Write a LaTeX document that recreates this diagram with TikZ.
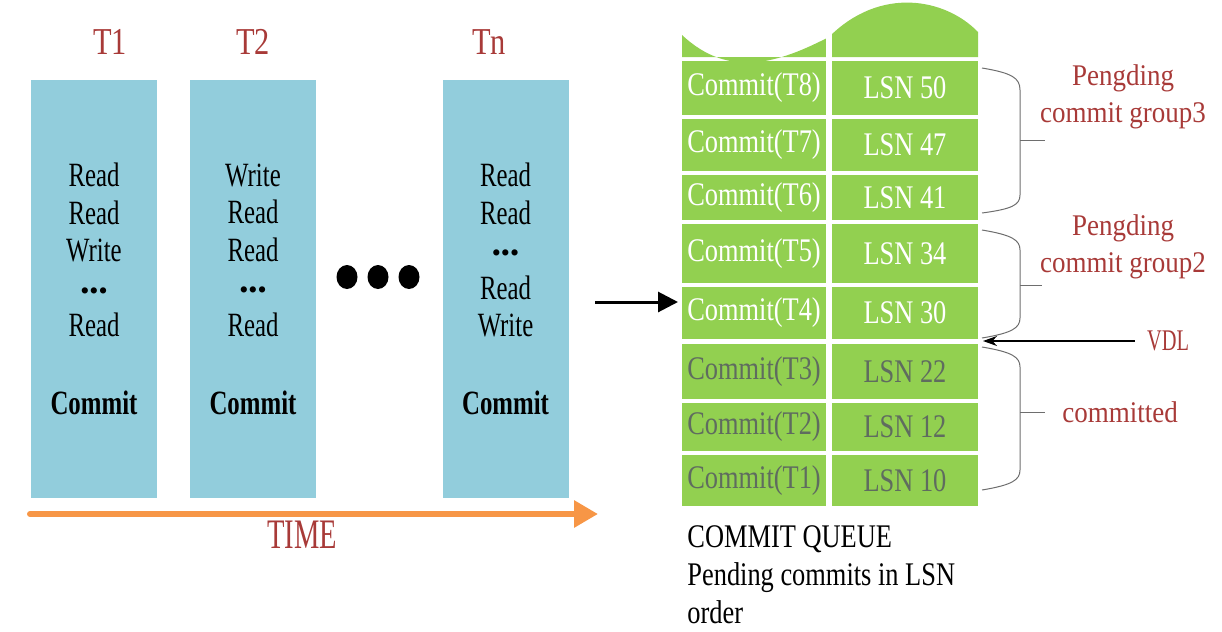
\documentclass[tikz,border=0pt]{standalone}
\usepackage{fontspec}
\setmainfont{Liberation Serif}
\newfontfamily\narrowfont[FakeStretch=0.8]{Liberation Serif}
\newfontfamily\opfont[FakeStretch=0.73]{Liberation Serif}
\newfontfamily\tallfont[FakeStretch=0.68]{Liberation Serif}
\newfontfamily\redfont[FakeStretch=0.9]{Liberation Serif}
\usetikzlibrary{arrows.meta}
\definecolor{txblue}{RGB}{146,205,220}
\definecolor{qgreen}{RGB}{146,208,80}
\definecolor{timeorange}{RGB}{247,150,70}
\definecolor{labelred}{RGB}{168,58,56}
\definecolor{donegray}{RGB}{95,108,95}
\definecolor{bracegray}{RGB}{110,110,110}
\newcommand{\opdots}{{\rmfamily\fontsize{13}{13}\selectfont\textbullet\textbullet\textbullet}}
\tikzset{
  txbox/.style={fill=txblue, minimum width=63pt, minimum height=209pt, inner sep=0pt},
  optext/.style={align=center, inner sep=0pt, font=\opfont\fontsize{17}{18.75}\selectfont},
  opcommit/.style={inner sep=0pt, font=\opfont\bfseries\fontsize{17}{18}\selectfont},
  txlabel/.style={inner sep=0pt, text=labelred, font=\narrowfont\fontsize{19}{20}\selectfont},
  qcell/.style={fill=qgreen, inner sep=0pt, text=white, font=\narrowfont\fontsize{16.5}{20}\selectfont},
  qleft/.style={qcell, minimum width=72pt},
  qright/.style={qcell, minimum width=73pt},
  done/.style={text=donegray},
  redlabel/.style={inner sep=0pt, align=center, text=labelred, font=\redfont\fontsize{15}{18.5}\selectfont},
  bracket/.style={draw=bracegray, line width=0.5pt}
}
\begin{document}
\begin{tikzpicture}[x=0.5pt, y=-0.5pt]
  \useasboundingbox (0,0) rectangle (1222,632);

  % transactions
  \node[txbox] (t1) at (94,289) {};
  \node[txbox] (t2) at (253,289) {};
  \node[txbox] (tn) at (505.5,289) {};
  \node[txlabel] (t1lab) at (110,42) {T1};
  \node[txlabel] (t2lab) at (253,42) {T2};
  \node[txlabel] (tnlab) at (489,42) {Tn};
  \node[optext] (t1ops) at (94,250) {Read\\Read\\Write\\\opdots\\Read};
  \node[optext] (t2ops) at (253,250) {Write\\Read\\Read\\\opdots\\Read};
  \node[optext] (tnops) at (505.5,250) {Read\\Read\\\opdots\\Read\\Write};
  \node[opcommit] (t1com) at (94,403) {Commit};
  \node[opcommit] (t2com) at (253,403) {Commit};
  \node[opcommit] (tncom) at (505.5,403) {Commit};
  \fill (347,277) ellipse [x radius=10.5, y radius=12];
  \fill (378,277) ellipse [x radius=10.5, y radius=12];
  \fill (409,277) ellipse [x radius=10.5, y radius=12];

  % time axis
  \coordinate (timestart) at (30,514);
  \coordinate (timeend) at (598,514);
  \draw[line width=3pt, timeorange, line cap=round, -{Triangle[length=12pt,width=13pt]}] (timestart) -- (timeend);
  \node[inner sep=0pt, text=labelred, font=\tallfont\fontsize{21}{24}\selectfont] (time) at (302,535) {TIME};

  % commit queue
  \fill[qgreen] (682,57) -- (682,35) .. controls (730,80) and (780,62) .. (829,37)
    .. controls (880,-14) and (945,-2) .. (978,32) -- (978,57) -- cycle;
  \draw[white, line width=3pt] (829,0) -- (829,60);
  \node[qleft, minimum height=27pt] (c8) at (754,88) {Commit(T8)};
  \node[qright, minimum height=27pt] (l8) at (905,88) {LSN 50};
  \node[qleft, minimum height=26pt] (c7) at (754,145) {Commit(T7)};
  \node[qright, minimum height=26pt] (l7) at (905,145) {LSN 47};
  \node[qleft, minimum height=22.5pt] (c6) at (754,197.5) {Commit(T6)};
  \node[qright, minimum height=22.5pt] (l6) at (905,197.5) {LSN 41};
  \node[qleft, minimum height=29.5pt] (c5) at (754,253.5) {Commit(T5)};
  \node[qright, minimum height=29.5pt] (l5) at (905,253.5) {LSN 34};
  \node[qleft, minimum height=26pt] (c4) at (754,313) {Commit(T4)};
  \node[qright, minimum height=26pt] (l4) at (905,313) {LSN 30};
  \node[qleft, done, minimum height=27.5pt] (c3) at (754,371.5) {Commit(T3)};
  \node[qright, done, minimum height=27.5pt] (l3) at (905,371.5) {LSN 22};
  \node[qleft, done, minimum height=24pt] (c2) at (754,427) {Commit(T2)};
  \node[qright, done, minimum height=24pt] (l2) at (905,427) {LSN 12};
  \node[qleft, done, minimum height=25.5pt] (c1) at (754,480.5) {Commit(T1)};
  \node[qright, done, minimum height=25.5pt] (l1) at (905,480.5) {LSN 10};
  \node[anchor=west, align=left, inner sep=0pt, font=\narrowfont\fontsize{16.5}{19}\selectfont] (qcap) at (687,575)
    {COMMIT QUEUE\\Pending commits in LSN\\order};

  % feed arrow
  \coordinate (feedin) at (595,302);
  \coordinate (feedtip) at (678,302);
  \draw[line width=1.5pt, -{Triangle[length=10pt,width=10pt]}] (feedin) -- (feedtip);

  % groups
  \draw[bracket] (982,68) .. controls (1012,73) and (1020,78) .. (1020,90) -- (1020,195)
    .. controls (1020,205) and (1012,209) .. (982,213);
  \draw[bracket] (1020,140) -- (1045,140);
  \draw[bracket] (982,230) .. controls (1012,235) and (1020,240) .. (1020,250) -- (1020,318)
    .. controls (1020,328) and (1012,333) .. (982,338);
  \draw[bracket] (1020,285) -- (1042,285);
  \draw[bracket] (982,347) .. controls (1012,352) and (1020,357) .. (1020,367) -- (1020,470)
    .. controls (1020,480) and (1012,485) .. (982,490);
  \draw[bracket] (1020,412) -- (1045,412);
  \node[redlabel] (grp3) at (1123,97) {Pengding\\commit group3};
  \node[redlabel] (grp2) at (1123,247) {Pengding\\commit group2};
  \node[redlabel] (doneg) at (1120,412) {committed};

  % VDL
  \node[inner sep=0pt, text=labelred, font=\tallfont\fontsize{15}{17}\selectfont] (vdl) at (1168,341) {VDL};
  \coordinate (vdltip) at (983,341);
  \draw[line width=0.8pt, -{Stealth[length=7pt,width=5pt]}] ([xshift=-6pt]vdl.west) -- (vdltip);
\end{tikzpicture}
\end{document}
